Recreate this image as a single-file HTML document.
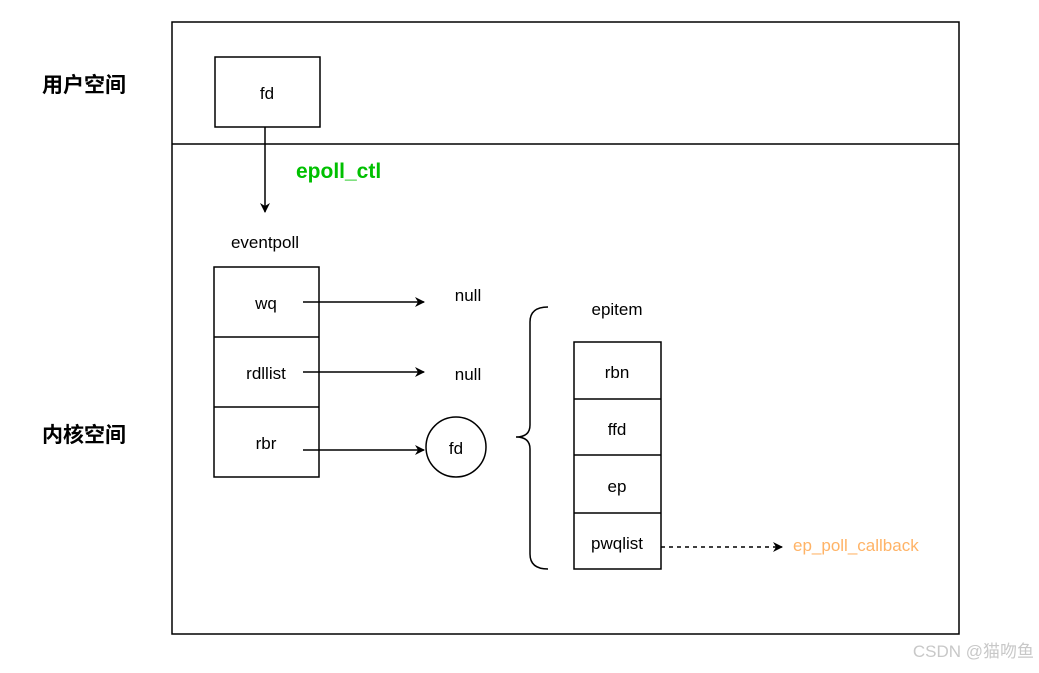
<!DOCTYPE html>
<html><head><meta charset="utf-8"><style>
body{margin:0;background:#fff;}
svg text{font-family:"Liberation Sans","Noto Sans CJK SC",sans-serif;}
</style></head><body>
<svg width="1039" height="668" xmlns="http://www.w3.org/2000/svg">
<defs><marker id="a" markerWidth="10" markerHeight="10" refX="9" refY="5" orient="auto" markerUnits="userSpaceOnUse"><path d="M0,0 L10,5 L0,10 L3,5 z" fill="#000"/></marker></defs>
<rect x="172" y="22" width="787" height="612" fill="none" stroke="#000" stroke-width="1.5"/>
<line x1="172" y1="144" x2="959" y2="144" stroke="#000" stroke-width="1.5"/>
<text x="84" y="92" font-size="21" font-weight="bold" text-anchor="middle">用户空间</text>
<text x="84" y="442" font-size="21" font-weight="bold" text-anchor="middle">内核空间</text>
<rect x="215" y="57" width="105" height="70" fill="none" stroke="#000" stroke-width="1.5"/>
<text x="267" y="99" font-size="17" text-anchor="middle">fd</text>
<line x1="265" y1="127" x2="265" y2="212" stroke="#000" stroke-width="1.5" marker-end="url(#a)"/>
<text x="296" y="178" font-size="21" font-weight="bold" fill="#00c000">epoll_ctl</text>
<text x="265" y="248" font-size="17" text-anchor="middle">eventpoll</text>
<rect x="214" y="267" width="105" height="210" fill="none" stroke="#000" stroke-width="1.5"/>
<line x1="214" y1="337" x2="319" y2="337" stroke="#000" stroke-width="1.5"/>
<line x1="214" y1="407" x2="319" y2="407" stroke="#000" stroke-width="1.5"/>
<text x="266" y="309" font-size="17" text-anchor="middle">wq</text>
<text x="266" y="379" font-size="17" text-anchor="middle">rdllist</text>
<text x="266" y="449" font-size="17" text-anchor="middle">rbr</text>
<line x1="303" y1="302" x2="424" y2="302" stroke="#000" stroke-width="1.5" marker-end="url(#a)"/>
<line x1="303" y1="372" x2="424" y2="372" stroke="#000" stroke-width="1.5" marker-end="url(#a)"/>
<line x1="303" y1="450" x2="424" y2="450" stroke="#000" stroke-width="1.5" marker-end="url(#a)"/>
<text x="468" y="301" font-size="17" text-anchor="middle">null</text>
<text x="468" y="380" font-size="17" text-anchor="middle">null</text>
<circle cx="456" cy="447" r="30" fill="none" stroke="#000" stroke-width="1.5"/>
<text x="456" y="454" font-size="17" text-anchor="middle">fd</text>
<path d="M548,307 Q530,307 530,322 L530,425 Q530,437 516,437 Q530,437 530,449 L530,554 Q530,569 548,569" fill="none" stroke="#000" stroke-width="1.5"/>
<text x="617" y="315" font-size="17" text-anchor="middle">epitem</text>
<rect x="574" y="342" width="87" height="227" fill="none" stroke="#000" stroke-width="1.5"/>
<line x1="574" y1="399" x2="661" y2="399" stroke="#000" stroke-width="1.5"/>
<line x1="574" y1="455" x2="661" y2="455" stroke="#000" stroke-width="1.5"/>
<line x1="574" y1="513" x2="661" y2="513" stroke="#000" stroke-width="1.5"/>
<text x="617" y="378" font-size="17" text-anchor="middle">rbn</text>
<text x="617" y="435" font-size="17" text-anchor="middle">ffd</text>
<text x="617" y="492" font-size="17" text-anchor="middle">ep</text>
<text x="617" y="549" font-size="17" text-anchor="middle">pwqlist</text>
<line x1="661" y1="547" x2="782" y2="547" stroke="#000" stroke-width="1.5" stroke-dasharray="4,4" marker-end="url(#a)"/>
<text x="793" y="551" font-size="17" fill="#ffb366">ep_poll_callback</text>
<text x="1034" y="657" font-size="17" fill="#c8c8c8" text-anchor="end">CSDN @猫吻鱼</text>
</svg>
</body></html>
